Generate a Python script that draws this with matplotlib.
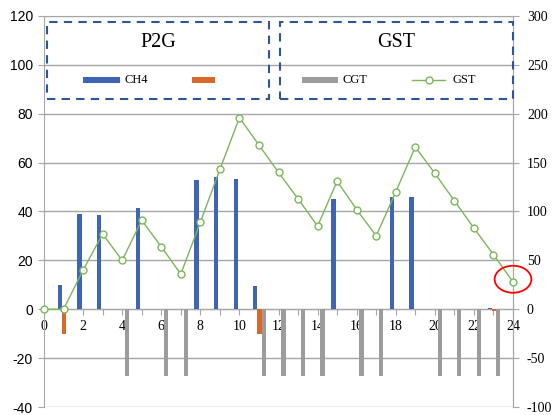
import numpy as np
import matplotlib
matplotlib.use("Agg")
import matplotlib.pyplot as plt
from matplotlib.patches import Rectangle, Ellipse
from matplotlib.lines import Line2D

plt.rcParams['axes.unicode_minus'] = False

# data
hours = list(range(25))
gst = [0, 0, 40, 77, 50, 91, 64, 36, 89, 143, 196, 168, 140, 113, 85,
       131, 102, 75, 120, 166, 139, 111, 83, 56, 28]

cats = list(range(1, 25))
ch4 = [10, 39.1, 38.4, 0, 41.4, 0, 0, 52.7, 54.2, 53.1, 9.7, 0,
       0, 0, 45.0, 0, 0, 45.8, 46.1, 0, 0, 0, 0.4, 0]
p2g_other = [-10, 0, 0, 0, 0, 0, 0, 0, 0, 0, -10, 0,
             0, 0, 0, 0, 0, 0, 0, 0, 0, 0, -0.6, 0]
cgt = [0, 0, 0, -27.5, 0, -27.5, -27.5, 0, 0, 0, -27.5, -27.5,
       -27.5, -27.5, 0, -27.5, -27.5, 0, 0, -27.5, -27.5, -27.5, -27.5, 0]

left_ticks = [-40, -20, 0, 20, 40, 60, 80, 100, 120]
right_ticks = [-100, -50, 0, 50, 100, 150, 200, 250, 300]

c_blue = '#3F64B5'
c_orange = '#D9692A'
c_gray = '#9C9C9C'
c_green = '#7DB65A'
c_grid = '#A6A6A6'
c_box = '#2E5597'

fig = plt.figure(figsize=(5.53, 4.15), dpi=100)
ax = fig.add_axes([44/553, 1-407/415, 469/553, 391/415])
ax2 = ax.twinx()

x = np.array(cats)
w = 0.22
ax.bar(x - 0.19, ch4, width=w, color=c_blue, linewidth=0, zorder=3)
ax.bar(x + 0.03, p2g_other, width=w, color=c_orange, linewidth=0, zorder=3)
ax.bar(x + 0.25, cgt, width=w, color=c_gray, linewidth=0, zorder=3)

ax.set_xlim(0, 24)
ax.set_ylim(-40, 120)
ax.set_yticks(left_ticks)
ax.set_yticklabels([str(t) for t in left_ticks], family='Liberation Sans', fontsize=10)
ax.set_axisbelow(True)
ax.yaxis.grid(True, color=c_grid, lw=1)
ax.tick_params(axis='y', direction='out', length=4, color=c_grid, pad=4)

ax.spines['bottom'].set_position(('data', 0))
ax.set_xticks(hours)
ax.set_xticklabels([str(h) if h % 2 == 0 else '' for h in hours],
                   family='Liberation Serif', fontsize=10)
ax.tick_params(axis='x', direction='out', length=4, color=c_grid, pad=4)
for s in ['left', 'bottom', 'top', 'right']:
    ax.spines[s].set_color(c_grid)

ax2.plot(hours, gst, color=c_green, lw=1, marker='o', mfc='white',
         mec=c_green, ms=5, mew=1, clip_on=False, zorder=5)
ax2.set_ylim(-100, 300)
ax2.set_yticks(right_ticks)
ax2.set_yticklabels([str(t) for t in right_ticks], family='Liberation Serif', fontsize=10)
ax2.tick_params(axis='y', direction='out', length=4, color=c_grid, pad=6)
for s in ['left', 'bottom', 'top']:
    ax2.spines[s].set_visible(False)
ax2.spines['right'].set_color(c_grid)

# highlight last point
ax2.add_patch(Ellipse((24, 30.7), 1.88, 27.6, fill=False, edgecolor='red',
                      lw=1.3, clip_on=False, zorder=6))

# legend boxes
tr = ax2.transAxes
for x0, x1 in [(0.0064, 0.4797), (0.503, 1.0)]:
    ax2.add_patch(Rectangle((x0, 0.7877), x1 - x0, 0.197, transform=tr,
                            fill=False, edgecolor=c_box, lw=1.5,
                            linestyle=(0, (4, 3)), clip_on=False, zorder=7))
ax2.text(0.243, 0.933, 'P2G', transform=tr, ha='center', va='center',
         family='Liberation Serif', fontsize=14.5)
ax2.text(0.7516, 0.933, 'GST', transform=tr, ha='center', va='center',
         family='Liberation Serif', fontsize=14.5)

ly = 0.8363
ax2.add_patch(Rectangle((0.0832, ly - 0.0085), 0.079, 0.017, transform=tr,
                        color=c_blue, lw=0))
ax2.text(0.1727, ly, 'CH4', transform=tr, va='center',
         family='Liberation Serif', fontsize=9)
ax2.add_patch(Rectangle((0.3156, ly - 0.0085), 0.049, 0.017, transform=tr,
                        color=c_orange, lw=0))
ax2.add_patch(Rectangle((0.5501, ly - 0.0085), 0.077, 0.017, transform=tr,
                        color=c_gray, lw=0))
ax2.text(0.6354, ly, 'CGT', transform=tr, va='center',
         family='Liberation Serif', fontsize=9)
ax2.add_line(Line2D([0.7846, 0.855], [ly, ly], transform=tr, color=c_green, lw=1))
ax2.add_line(Line2D([0.8209], [ly], transform=tr, color=c_green, marker='o',
                    mfc='white', mec=c_green, ms=5, mew=1))
ax2.text(0.870, ly, 'GST', transform=tr, va='center',
         family='Liberation Serif', fontsize=9)

fig.savefig('out.png', dpi=100)
